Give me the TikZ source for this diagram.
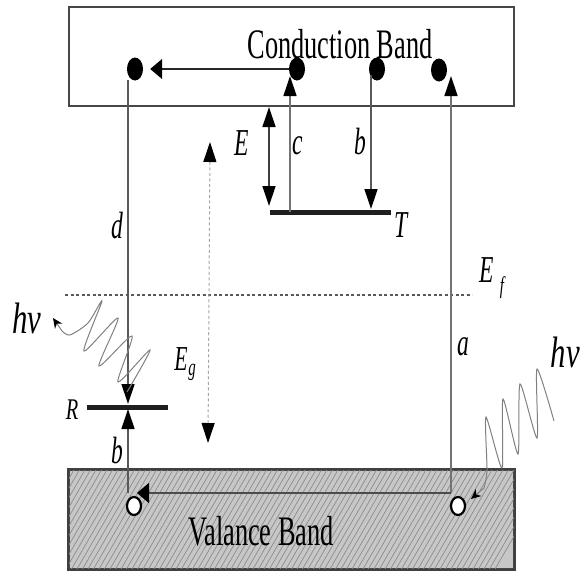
\documentclass[tikz,border=0pt]{standalone}
\usepackage{fontspec}
\setmainfont{Liberation Serif}
\usetikzlibrary{arrows.meta,shapes.geometric}
\newcommand{\sqz}[2][0.62]{\scalebox{#1}[1]{#2}}
\tikzset{
  band/.style={draw=black!72, line width=2pt, minimum width=445pt, minimum height=99pt, inner sep=0pt},
  edot/.style={ellipse, fill=black, minimum width=16pt, minimum height=23pt, inner sep=0pt},
  hole/.style={ellipse, draw=black, line width=2.2pt, fill=white, minimum width=14pt, minimum height=18pt, inner sep=0pt},
  trans/.style={draw=black!55, line width=1.3pt},
  vtip/.style={-{Triangle[length=20pt,width=13pt,color=black]}},
  htip/.style={-{Triangle[length=12pt,width=20pt,color=black]}},
  level/.style={line width=5pt, draw=black!88},
  lab/.style={font=\fontsize{38}{38}\selectfont\itshape, inner sep=0pt},
  sublab/.style={font=\fontsize{24}{24}\selectfont\itshape, inner sep=0pt},
  hvlab/.style={font=\fontsize{44}{44}\selectfont\itshape, inner sep=0pt},
  bandtxt/.style={font=\fontsize{42}{42}\selectfont, inner sep=0pt},
  wave/.style={draw=black!50, line width=1pt},
}
\begin{document}
\begin{tikzpicture}[x=1pt,y=-1pt]
\useasboundingbox (0,0) rectangle (581,571);
% valence band with hatching
\node[band, fill=black!22] (vb) at (291.5,519) {};
\begin{scope}
  \clip (69,469) rectangle (514,569);
  \foreach \k in {-20,...,90} \draw[black!45, line width=0.7pt] (\k*5.5,569) -- ++(58,-100);
\end{scope}
\draw[draw=black!75, line width=2pt] (vb.south west) rectangle (vb.north east);
% conduction band
\node[band] (cb) at (291.5,56.5) {};
\node[bandtxt] (cbt) at (340,44) {\sqz[0.627]{Conduction Band}};
\node[bandtxt] (vbt) at (261,531) {\sqz[0.627]{Valance Band}};

% coordinates
\coordinate (cTop) at (290,76);  \coordinate (cBot) at (290,212);
\coordinate (bTop) at (371,75);  \coordinate (bBot) at (371,209);
\coordinate (aTop) at (451,76);  \coordinate (aBot) at (451,493);
\coordinate (dTop) at (128,80);  \coordinate (dBot) at (128,404);
\coordinate (rbBot) at (128,493); \coordinate (rbTop) at (128,409);
\coordinate (vhTip) at (137,493);
\coordinate (ETop) at (269,107); \coordinate (EBot) at (269,206);
\coordinate (EgTop) at (210,142); \coordinate (EgBot) at (208,443);
\coordinate (TL) at (270,212); \coordinate (TR) at (391,212);
\coordinate (RL) at (87,407);  \coordinate (RR) at (168,407);
\coordinate (EfL) at (65,295); \coordinate (EfR) at (472,295);

% Fermi level
\draw[black!65, line width=2pt, dash pattern=on 3pt off 2.5pt] (EfL) -- (EfR);
% levels
\draw[level] (TL) -- (TR);
\draw[level] (RL) -- (RR);

% carriers
\node[edot] (e1) at (135,69) {};
\node[edot] (e2) at (297,69) {};
\node[edot] (e3) at (377,69) {};
\node[edot] (e4) at (439,70) {};

% transitions
\draw[trans, draw=black!85, htip, shorten >=7pt] (e2) -- (e1);
\draw[trans, vtip] (cBot) -- (cTop);
\draw[trans, draw=black!65, vtip] (bTop) -- (bBot);
\draw[trans, vtip] (aBot) -- (aTop);
\draw[trans, draw=black!65, vtip] (dTop) -- (dBot);
\draw[trans, draw=black!65, vtip] (rbBot) -- (rbTop);
\draw[trans, draw=black!70, htip] (aBot) -- (vhTip);
\draw[trans, draw=black!75, {Triangle[length=20pt,width=13pt,color=black]}-{Triangle[length=20pt,width=13pt,color=black]}] (ETop) -- (EBot);
\draw[draw=black!35, line width=1pt, dash pattern=on 3pt off 2.5pt, {Triangle[length=20pt,width=13pt,color=black]}-{Triangle[length=20pt,width=13pt,color=black]}] (EgTop) -- (EgBot);

\node[hole] (h1) at (134,506) {};
\node[hole] (h2) at (458,506) {};

% photons
\draw[wave, -{Stealth[length=10pt,width=9pt,color=black]}] plot[smooth, tension=0.45] coordinates {(127,392) (150,350) (118,382) (132,336) (99,366) (118,318) (84,351) (102,301) (88,323) (70,335) (62,331)} -- (53,318);
\draw[wave, -{Stealth[length=10pt,width=9pt,color=black]}] plot[smooth, tension=0.4] coordinates {(554,421) (537,369) (537,438) (520,384) (518,454) (503,399) (502,468) (486,417) (487,470) (484,488)} -- (471,499);

% labels
\node[lab] (lE) at (242,143) {\sqz{E}};
\node[lab] (lc) at (298,146) {\sqz{c}};
\node[lab] (lb1) at (360,141) {\sqz{b}};
\node[lab] (lT) at (401,225) {\sqz{T}};
\node[lab] (ld) at (117,226) {\sqz{d}};
\node[lab] (la) at (463,347) {\sqz{a}};
\node[lab, font=\fontsize{30}{30}\selectfont\itshape] (lR) at (72,410) {\sqz[0.68]{R}};
\node[lab] (lb2) at (117,450) {\sqz{b}};
\node[lab, font=\fontsize{35}{35}\selectfont\itshape] (lEg) at (181,359) {\sqz{E}};
\node[sublab] (lEgs) at (192,372) {\sqz{g}};
\node[lab] (lEf) at (487,270) {\sqz{E}};
\node[sublab] (lEfs) at (502,288) {\sqz{f}};
\node[hvlab] (hv1) at (27,318) {\sqz[0.7]{hν}};
\node[hvlab, anchor=east] (hv2) at (580,352) {\sqz[0.7]{hν}};
\end{tikzpicture}
\end{document}
